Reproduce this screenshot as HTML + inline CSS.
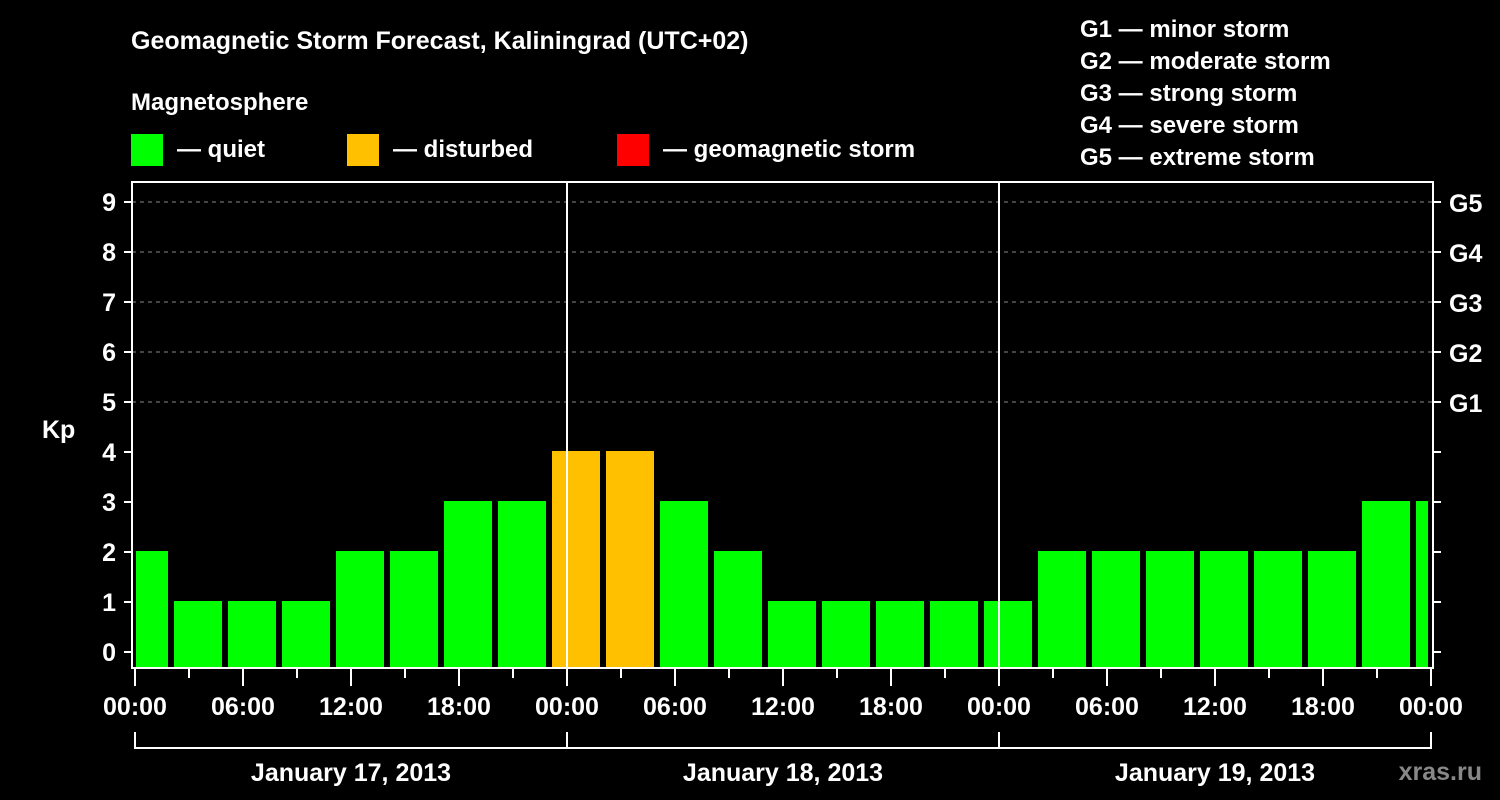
<!DOCTYPE html>
<html><head><meta charset="utf-8"><style>
html,body{margin:0;padding:0;background:#000;}
svg{display:block;font-family:"Liberation Sans",Arial,sans-serif;font-weight:bold;}
</style></head><body>
<svg id="chart" width="1500" height="800" viewBox="0 0 1500 800">
<rect x="0" y="0" width="1500" height="800" fill="#000"/>
<text x="131" y="49" fill="#fff" font-size="25">Geomagnetic Storm Forecast, Kaliningrad (UTC+02)</text>
<text x="131" y="110" fill="#fff" font-size="24">Magnetosphere</text>
<g><rect x="131" y="134" width="32" height="32" fill="#00ff00"/><text x="177" y="157" fill="#fff" font-size="24">— quiet</text></g>
<g><rect x="347" y="134" width="32" height="32" fill="#ffc000"/><text x="393" y="157" fill="#fff" font-size="24">— disturbed</text></g>
<g><rect x="617" y="134" width="32" height="32" fill="#ff0000"/><text x="663" y="157" fill="#fff" font-size="24">— geomagnetic storm</text></g>
<g fill="#fff" font-size="24">
<text x="1080" y="37">G1 — minor storm</text>
<text x="1080" y="69">G2 — moderate storm</text>
<text x="1080" y="101">G3 — strong storm</text>
<text x="1080" y="133">G4 — severe storm</text>
<text x="1080" y="165">G5 — extreme storm</text>
</g>
<text x="42" y="438" fill="#fff" font-size="25">Kp</text>
<g id="grid"></g><g id="bars"></g><g id="axes"></g>
<text x="1482" y="780" fill="#888" font-size="25" text-anchor="end">xras.ru</text>
</svg>
<script>
const kpValues = [2,1,1,1,2,2,3,3,4,4,3,2,1,1,1,1,1,2,2,2,2,2,2,3,3];
const slotStartHours = [-1,2,5,8,11,14,17,20,23,26,29,32,35,38,41,44,47,50,53,56,59,62,65,68,71];
const yTicks = [0,1,2,3,4,5,6,7,8,9];
const gLabels = ["G1","G2","G3","G4","G5"];
const gLevels = [5,6,7,8,9];
const xTickLabels = ["00:00","06:00","12:00","18:00","00:00","06:00","12:00","18:00","00:00","06:00","12:00","18:00","00:00"];
const dayLabels = ["January 17, 2013","January 18, 2013","January 19, 2013"];
const disturbedThreshold = 4, stormThreshold = 5;

const NS="http://www.w3.org/2000/svg";
const X0=135, PX_H=18, Y0=652, PX_KP=50, L=132, R=1433, T=182, B=668;
const xs=h=>X0+h*PX_H, ys=v=>Y0-v*PX_KP;
function mk(tag,attrs,parent){const e=document.createElementNS(NS,tag);for(const k in attrs)e.setAttribute(k,attrs[k]);parent.appendChild(e);return e;}
const grid=document.getElementById('grid'),bars=document.getElementById('bars'),axes=document.getElementById('axes');

gLevels.forEach((v,i)=>{
  const l=mk('line',{x1:L,x2:R,y1:ys(v),y2:ys(v),stroke:'#888','stroke-dasharray':'4,4','stroke-width':1},grid);
  
  
  const t=mk('text',{x:1449,y:ys(v)+10,fill:'#fff','font-size':25},axes);
  t.textContent=gLabels[i];
  
  
});

kpValues.forEach((v,i)=>{
  let x1=Math.max(xs(slotStartHours[i])+3,L+4), x2=Math.min(xs(slotStartHours[i]+3)-3,R-5);
  const col=v>=stormThreshold?'#ff0000':(v>=disturbedThreshold?'#ffc000':'#00ff00');
  const r=mk('rect',{x:x1,y:ys(v)-1,width:x2-x1,height:B-1-(ys(v)-1),fill:col},bars);
  
  
});

[567,999].forEach((x,i)=>{
  const l=mk('line',{x1:x,x2:x,y1:T,y2:B,stroke:'#fff','stroke-width':2},axes);
  
  
});
const frame=mk('rect',{x:L,y:T,width:R-L,height:B-T,fill:'none',stroke:'#fff','stroke-width':2},axes);



yTicks.forEach(v=>{
  mk('line',{x1:124,x2:L,y1:ys(v),y2:ys(v),stroke:'#fff','stroke-width':2},axes);
  mk('line',{x1:R,x2:1441,y1:ys(v),y2:ys(v),stroke:'#fff','stroke-width':2},axes);
  const t=mk('text',{x:116,y:ys(v)+9,fill:'#fff','font-size':25,'text-anchor':'end'},axes);
  t.textContent=v;
  
  
});

for(let h=0;h<=72;h+=3){
  const major=h%6===0;
  mk('line',{x1:xs(h),x2:xs(h),y1:B+1,y2:major?686:678,stroke:'#fff','stroke-width':2},axes);
}
xTickLabels.forEach((s,i)=>{
  const t=mk('text',{x:xs(i*6),y:715,fill:'#fff','font-size':25,'text-anchor':'middle'},axes);
  t.textContent=s;
  
  
});
mk('line',{x1:xs(0),x2:xs(72),y1:748,y2:748,stroke:'#fff','stroke-width':2},axes);
[0,24,48,72].forEach(h=>mk('line',{x1:xs(h),x2:xs(h),y1:732,y2:749,stroke:'#fff','stroke-width':2},axes));
dayLabels.forEach((s,i)=>{
  const t=mk('text',{x:xs(i*24+12),y:781,fill:'#fff','font-size':25,'text-anchor':'middle'},axes);
  t.textContent=s;
  
  
});
</script>
</body></html>
